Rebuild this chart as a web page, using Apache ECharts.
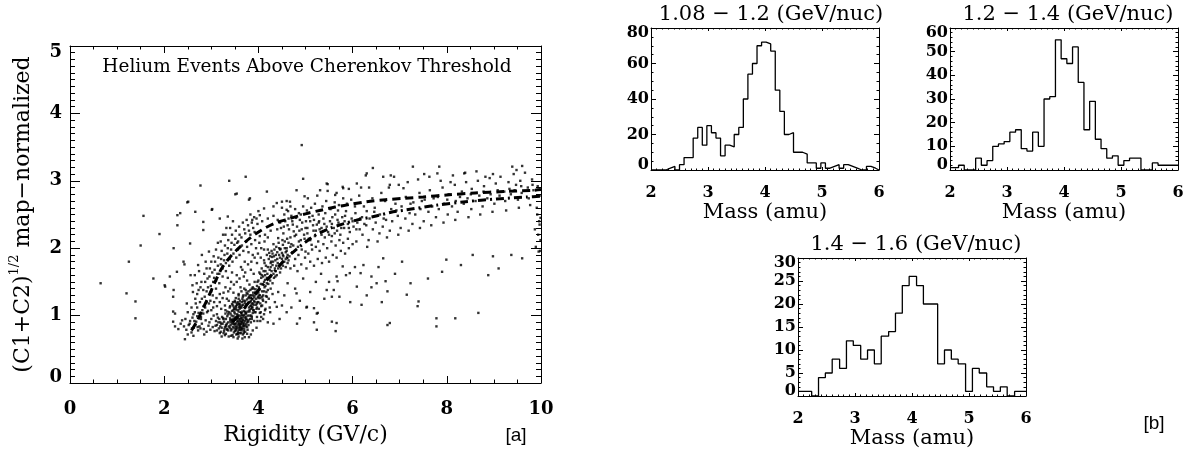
<!DOCTYPE html>
<html><head><meta charset="utf-8">
<script src="https://cdn.jsdelivr.net/npm/echarts@6/dist/echarts.min.js"></script>
<style>html,body{margin:0;padding:0;background:#fff}#c{width:1191px;height:458px}</style>
</head><body><div id="c"></div>
<script>
// ---------- Panel [a]: scatter of (C1+C2)^1/2 vs rigidity ----------
const coreCluster = [
[3.52,0.88],[3.61,0.92],[3.58,0.79],[3.67,0.85],[3.44,0.93],[3.71,0.97],[3.55,1.02],[3.63,0.74],[3.49,0.81],[3.76,0.9],
[3.59,0.95],[3.66,1.06],[3.41,0.86],[3.53,0.72],[3.7,0.8],[3.82,0.95],[3.47,0.99],[3.62,0.83],[3.57,0.87],[3.74,1.04],
[3.65,0.9],[3.38,0.84],[3.5,0.77],[3.79,0.86],[3.68,0.93],[3.56,0.97],[3.6,1.1],[3.45,0.9],[3.72,1.12],[3.85,1.0],
[3.54,0.84],[3.64,0.78],[3.7,0.89],[3.48,0.75],[3.58,0.69],[3.77,0.79],[3.62,1.0],[3.51,0.94],[3.4,0.96],[3.69,1.01],
[3.81,1.08],[3.59,0.82],[3.66,0.96],[3.43,0.8],[3.73,0.84],[3.55,0.91],[3.88,1.04],[3.63,0.88],[3.49,1.05],[3.75,0.94],
[3.36,0.9],[3.57,0.76],[3.67,0.72],[3.52,0.98],[3.78,1.0],[3.6,0.86],[3.46,0.83],[3.71,0.92],[3.84,0.9],[3.64,1.04],
[3.53,0.8],[3.69,0.77],[3.58,1.06],[3.42,0.78],[3.8,1.12],[3.66,0.82],[3.5,0.88],[3.74,0.87],[3.62,0.95],[3.9,1.08],
[3.55,0.73],[3.47,0.95],[3.68,0.99],[3.77,1.06],[3.39,0.82],[3.61,0.79],[3.72,0.76],[3.57,0.92],[3.86,0.98],[3.64,0.91],
[3.33,0.88],[3.51,0.84],[3.7,1.07],[3.6,0.74],[3.45,0.71],[3.79,0.93],[3.56,1.0],[3.67,0.88],[3.83,1.14],[3.48,0.87],
[3.63,0.97],[3.74,0.98],[3.54,0.95],[3.41,0.9],[3.59,0.89],[3.69,0.84],[3.87,1.12],[3.52,1.09],[3.76,0.83],[3.65,0.8],
[3.12,0.78],[3.15,0.9],[3.19,0.84],[3.23,0.98],[3.27,0.91],[3.3,1.08],[3.33,0.8],[3.36,1.02],[3.4,1.14],[3.43,0.94],
[3.46,1.2],[3.49,1.1],[3.52,1.26],[3.55,1.16],[3.58,1.32],[3.61,1.22],[3.64,1.36],[3.67,1.28],[3.7,1.4],[3.73,1.3],
[3.76,1.24],[3.79,1.36],[3.82,1.2],[3.85,1.3],[3.88,1.42],[3.91,1.22],[3.94,1.34],[3.97,1.12],[4.0,1.26],[4.03,1.04],
[3.26,0.74],[3.31,0.95],[3.38,1.05],[3.44,1.17],[3.5,1.03],[3.56,1.2],[3.62,1.12],[3.68,1.22],[3.74,1.16],[3.8,1.28],
[3.86,1.18],[3.92,1.05],[3.98,1.2],[4.06,1.14],[4.1,1.22],[3.21,0.88],[3.34,0.99],[3.47,1.08],[3.59,1.17],[3.71,1.19],
[3.83,1.26],[3.95,1.16],[3.65,1.15],[3.53,1.12],[3.41,1.03],[3.29,0.83],[3.17,0.95],[3.77,1.32],[3.89,1.34],[4.02,1.3]
];
const coreHalo = [
[3.18,0.74],[3.22,0.82],[3.26,0.95],[3.29,0.71],[3.32,0.84],[3.34,1.06],[3.37,0.69],[3.39,1.12],[3.43,1.0],[3.46,1.15],
[3.5,1.22],[3.54,1.18],[3.58,1.25],[3.61,1.15],[3.65,1.2],[3.68,1.3],[3.72,1.22],[3.75,1.34],[3.79,1.26],[3.83,1.38],
[3.87,1.24],[3.9,1.4],[3.94,1.05],[3.97,0.98],[4.01,1.1],[4.04,0.92],[4.08,1.15],[4.12,1.02],[4.16,1.2],[4.2,0.9],
[3.96,0.82],[3.91,0.92],[3.88,0.78],[3.84,0.72],[3.8,0.68],[3.76,0.73],[3.71,0.68],[3.66,0.66],[3.56,0.66],[3.47,0.68],
[3.42,0.7],[3.27,0.77],[3.31,0.86],[3.36,0.78],[3.4,0.93],[3.44,1.07],[3.48,1.12],[3.52,1.14],[3.56,1.08],[3.6,1.18],
[3.64,1.12],[3.68,1.16],[3.72,1.05],[3.76,1.17],[3.8,1.2],[3.84,1.1],[3.88,1.18],[3.92,1.3],[3.96,1.32],[4.0,1.34],
[4.04,1.18],[4.08,1.28],[4.12,1.36],[4.16,1.29],[4.22,1.25],[4.26,1.4],[4.3,1.32],[4.06,0.98],[4.14,1.08],[4.24,1.12],
[3.58,1.0],[3.62,0.87],[3.66,0.93],[3.7,0.86],[3.54,0.82],[3.5,0.96],[3.45,0.88],[3.6,0.84],[3.74,0.95],[3.78,0.91],
[3.82,1.0],[3.86,0.95],[3.57,0.73],[3.63,0.81],[3.69,0.74],[3.52,0.78],[3.47,0.92],[3.65,1.01],[3.59,1.13],[3.73,1.02]
];
const lowerTail = [
[2.47,0.79],[2.52,0.86],[2.58,0.75],[2.63,0.82],[2.68,0.91],[2.72,0.78],[2.75,0.84],[2.8,0.88],[2.84,0.8],[2.9,0.76],
[2.94,0.85],[2.98,0.79],[3.03,0.83],[3.07,0.77],[3.12,0.86],[3.16,0.81],[3.2,0.76],[3.24,0.88],[3.28,0.8],[3.31,0.73],
[2.55,0.92],[2.6,0.97],[2.66,0.86],[2.7,0.99],[2.78,0.95],[2.83,1.03],[2.88,0.93],[2.93,1.07],[3.0,0.95],[3.05,1.0],
[3.1,0.92],[3.14,0.97],[3.19,0.9],[3.25,0.96],[3.3,1.03],[2.44,0.65],[2.5,0.72],[2.62,0.7],[2.85,0.72],[3.22,0.69],
[2.71,0.83],[2.77,0.81],[2.96,0.9],[3.09,0.85],[3.34,0.79],[2.59,0.81],[2.42,0.84],[2.38,0.93],[2.65,1.05],[2.87,1.12],
[2.19,0.91],[2.23,0.84],[2.3,0.8],[2.35,0.88]
];
const lowerBand = [
[3.78,1.18],[3.84,1.22],[3.9,1.16],[3.95,1.25],[3.88,1.3],[3.93,1.34],[3.99,1.28],[4.02,1.38],[3.86,1.4],[3.97,1.44],
[4.05,1.47],[4.08,1.36],[3.92,1.2],[4.0,1.52],[4.12,1.5],[4.1,1.58],[4.04,1.62],[4.15,1.66],[4.18,1.56],[4.2,1.72],
[4.07,1.7],[4.24,1.68],[4.13,1.78],[4.27,1.8],[4.22,1.84],[4.3,1.75],[4.33,1.88],[4.18,1.9],[4.36,1.82],[4.4,1.94],
[4.28,1.96],[4.44,1.9],[4.38,2.02],[4.47,1.99],[4.52,2.05],[4.32,1.62],[4.25,1.52],[4.15,1.44],[4.1,1.3],[4.0,1.2],
[3.82,1.3],[3.87,1.12],[3.96,1.1],[4.03,1.3],[4.09,1.24],[4.17,1.35],[4.21,1.47],[4.26,1.58],[4.35,1.7],[4.41,1.78],
[4.46,1.86],[4.5,1.93],[4.56,2.0],[4.6,1.96],[4.64,2.08],[4.55,1.8],[4.48,1.7],[4.39,1.6],[4.3,1.48],[4.2,1.38],
[3.94,1.39],[3.98,1.5],[4.06,1.56],[4.11,1.66],[4.16,1.74],[4.23,1.93],[4.29,1.87],[4.34,1.98],[4.43,2.08],[4.51,2.12],
[3.81,1.06],[3.89,1.08],[3.91,1.27],[4.01,1.42],[4.07,1.6],[4.14,1.53],[4.19,1.62],[4.26,1.72],[4.31,1.8],[4.37,1.9],
[3.85,1.15],[3.97,1.18],[4.04,1.26],[4.13,1.42],[4.23,1.56],[4.37,1.66],[4.45,1.76],[4.53,1.88],[4.62,1.9],[4.68,2.02],
[3.92,1.5],[4.02,1.64],[4.12,1.82],[4.2,1.98],[4.09,1.46],[4.18,1.48],[4.28,1.66],[4.33,1.56],[4.42,1.7],[4.58,1.84],
[4.25,1.88],[4.32,2.06],[4.38,1.74],[4.44,2.0],[4.5,1.84],[4.56,2.1],[4.62,1.78],[4.68,2.16],[4.74,2.04],[4.8,2.2],
[4.86,2.1],[4.92,2.28],[4.98,2.14],[5.04,2.22],[5.1,2.12],[5.16,2.34],[5.22,2.26],[5.28,2.38],[5.34,2.3],[5.4,2.36],
[4.14,1.6],[4.2,1.55],[4.26,1.78],[4.3,1.92],[4.36,1.58],[4.4,1.84],[4.46,1.64],[4.52,1.74],[4.58,1.94],[4.64,1.82]
];
const upperBand = [
[2.62,1.02],[2.7,1.12],[2.76,1.2],[2.81,1.08],[2.86,1.28],[2.9,1.36],[2.95,1.18],[2.99,1.44],[3.03,1.3],[3.06,1.56],
[3.1,1.4],[3.13,1.62],[3.17,1.48],[3.2,1.76],[3.24,1.58],[3.27,1.82],[3.31,1.66],[3.34,1.92],[3.38,1.74],[3.42,1.98],
[3.45,1.8],[3.49,2.05],[3.53,1.86],[3.57,2.1],[3.6,1.9],[3.64,2.16],[3.68,1.96],[3.72,2.22],[3.76,2.02],[3.8,2.26],
[3.85,2.06],[3.89,2.3],[3.93,2.12],[3.98,2.36],[4.03,2.18],[4.08,2.4],[4.14,2.2],[4.2,2.44],[4.26,2.26],[4.32,2.48],
[2.66,1.25],[2.73,1.38],[2.79,1.5],[2.85,1.62],[2.92,1.55],[2.97,1.7],[3.02,1.64],[3.08,1.8],[3.15,1.86],[3.22,1.96],
[3.29,2.04],[3.36,2.12],[3.44,2.2],[3.52,2.26],[3.59,2.32],[3.67,2.38],[3.75,2.42],[3.83,2.5],[3.91,2.46],[4.0,2.55],
[2.78,0.98],[2.84,1.14],[2.91,1.05],[2.98,1.22],[3.04,1.12],[3.11,1.26],[3.18,1.2],[3.26,1.34],[3.33,1.25],[3.4,1.4],
[3.47,1.34],[3.54,1.5],[3.62,1.42],[3.69,1.58],[3.76,1.52],[3.84,1.68],[3.9,1.62],[3.97,1.78],[4.05,1.86],[4.12,1.98],
[3.35,1.56],[3.44,1.64],[3.5,1.2],[3.58,1.3],[3.66,1.25],[3.73,1.38],[3.81,1.46],[3.88,1.9],[3.95,2.0],[4.02,2.08],
[3.12,1.02],[3.21,1.1],[3.29,1.15],[3.37,1.22],[2.56,1.6],[2.61,1.35],[2.69,1.48],[2.74,1.66],[2.88,1.8],[2.95,1.95],
[3.05,1.88],[3.14,2.08],[3.25,2.2],[3.32,2.3],[3.46,2.4],[3.55,2.08],[3.63,1.72],[3.71,1.8],[3.79,1.94],[3.86,2.38],
[2.45,0.95],[2.5,1.05],[2.54,0.88],[2.58,1.12],[2.64,0.92],[2.67,1.18],[2.7,1.32],[2.73,1.04],[2.77,1.42],[2.8,1.25],
[2.83,1.38],[2.87,1.5],[2.9,1.2],[2.93,1.42],[2.96,1.58],[3.0,1.36],[3.04,1.5],[3.07,1.68],[3.1,1.52],[3.14,1.74],
[3.17,1.62],[3.21,1.84],[3.24,1.7],[3.28,1.9],[3.31,1.78],[3.35,2.0],[3.39,1.84],[3.43,2.08],[3.47,1.92],[3.51,2.14],
[3.56,1.98],[3.6,2.2],[3.65,2.04],[3.7,2.28],[3.74,2.1],[3.78,2.34],[3.83,2.2],[3.87,2.42],[3.92,2.24],[3.96,2.44],
[3.0,1.08],[3.06,1.2],[3.12,1.14],[3.18,1.32],[3.24,1.26],[3.3,1.42],[3.36,1.36],[3.42,1.5],[3.48,1.46],[3.54,1.6],
[3.6,1.55],[3.66,1.68],[3.72,1.64],[3.78,1.76],[3.85,1.8],[3.92,1.86],[3.99,1.92],[4.06,2.0],[4.13,2.1],[4.2,2.16],
[2.6,1.45],[2.65,1.6],[2.72,1.75],[2.8,1.9],[2.9,1.7],[3.0,1.8],[3.1,1.98],[3.2,2.1],[3.3,2.2],[3.4,2.3]
];
const midBand = [
[4.42,2.15],[4.48,2.3],[4.53,2.22],[4.57,2.4],[4.61,2.14],[4.65,2.28],[4.7,2.06],[4.73,2.35],[4.77,2.18],[4.8,2.45],
[4.84,2.02],[4.87,2.26],[4.9,2.12],[4.93,2.38],[4.97,2.2],[5.0,1.95],[5.04,2.3],[5.07,2.14],[5.1,2.4],[5.13,2.05],
[5.17,2.26],[5.2,2.18],[5.24,2.35],[5.27,2.1],[5.3,2.28],[5.34,2.2],[5.38,2.44],[5.41,2.16],[5.45,2.32],[5.48,2.24],
[5.52,2.4],[5.56,2.18],[5.6,2.3],[5.63,2.5],[5.67,2.26],[5.7,2.38],[5.74,2.2],[5.78,2.46],[5.82,2.3],[5.86,2.55],
[5.9,2.36],[5.94,2.24],[5.98,2.44],[6.02,2.32],[6.06,2.52],[6.1,2.38],[6.15,2.28],[6.2,2.46],[6.25,2.36],[6.3,2.55],
[4.46,1.98],[4.52,1.9],[4.6,2.0],[4.66,1.88],[4.72,1.94],[4.78,1.84],[4.85,1.9],[4.92,1.98],[4.99,1.86],[5.06,1.92],
[5.14,1.98],[5.22,2.02],[5.3,1.96],[5.38,2.06],[5.46,2.0],[5.55,2.1],[5.64,2.04],[5.72,2.12],[5.8,2.08],[5.9,2.14],
[4.55,2.5],[4.63,2.55],[4.7,2.48],[4.78,2.58],[4.86,2.52],[4.95,2.62],[5.03,2.56],[5.12,2.6],[5.2,2.66],[5.28,2.5],
[5.36,2.62],[5.44,2.7],[5.53,2.58],[5.62,2.68],[5.71,2.64],[5.8,2.74],[5.88,2.66],[5.97,2.72],[6.05,2.62],[6.14,2.78],
[4.5,1.78],[4.58,1.72],[4.68,1.7],[4.76,1.74],[4.83,1.66],[4.91,1.76],[5.02,1.7],[5.1,1.8],[5.18,1.74],[5.26,1.84],
[5.35,1.78],[5.43,1.86],[5.5,1.8],[5.58,1.9],[5.66,1.86],[5.75,1.96],[5.84,1.92],[5.92,2.0],[6.0,2.06],[6.08,2.1],
[4.62,2.34],[4.75,2.25],[4.88,2.42],[5.01,2.4],[5.15,2.48],[5.29,2.4],[5.42,2.52],[5.57,2.46],[5.69,2.56],[5.83,2.4],
[4.41,2.42],[4.5,2.6],[4.6,2.7],[4.68,2.62],[5.05,2.74],[5.25,2.78],[5.47,2.85],[5.66,2.82],[5.92,2.88],[6.18,2.9],
[4.4,2.28],[4.46,2.38],[4.54,2.32],[4.64,2.44],[4.72,2.4],[4.82,2.32],[4.9,2.5],[5.0,2.3],[5.08,2.46],[5.18,2.42],
[5.5,2.2],[5.56,2.36],[5.62,2.22],[5.68,2.42],[5.76,2.3],[5.84,2.48],[5.92,2.3],[6.0,2.4],[6.08,2.28],[6.16,2.44]
];
const highRigidity = [
[6.21,2.2],[6.29,2.34],[6.34,2.12],[6.36,2.44],[6.43,2.28],[6.47,2.6],[6.49,2.38],[6.57,2.22],[6.58,2.5],[6.64,2.32],
[6.69,2.7],[6.71,2.42],[6.79,2.26],[6.82,2.58],[6.84,2.4],[6.91,2.66],[6.96,2.48],[7.02,2.3],[7.04,2.62],[7.12,2.44],
[7.13,2.76],[7.21,2.52],[7.27,2.36],[7.29,2.68],[7.33,2.5],[7.42,2.82],[7.44,2.58],[7.51,2.4],[7.53,2.72],[7.61,2.54],
[7.64,2.86],[7.69,2.62],[7.77,2.46],[7.81,2.76],[7.83,2.58],[7.91,2.9],[7.94,2.66],[8.02,2.5],[8.04,2.8],[8.11,2.62],
[8.17,2.94],[8.19,2.7],[8.23,2.54],[8.32,2.84],[8.36,2.66],[8.41,2.98],[8.44,2.74],[8.52,2.58],[8.53,2.88],[8.61,2.7],
[8.66,3.0],[8.69,2.78],[8.76,2.62],[8.79,2.92],[8.86,2.74],[8.91,3.04],[8.93,2.8],[9.01,2.66],[9.04,2.96],[9.12,2.78],
[9.14,3.06],[9.22,2.84],[9.24,2.7],[9.31,2.98],[9.36,2.8],[9.42,3.1],[9.44,2.86],[9.51,2.72],[9.56,3.0],[9.59,2.82],
[9.66,3.12],[9.72,2.9],[9.74,2.74],[9.81,3.02],[9.84,2.86],[9.91,2.6],[9.93,2.92],[9.97,2.78],[6.24,2.62],[6.42,2.74],
[6.61,2.82],[6.77,2.9],[6.98,2.94],[7.17,2.98],[7.39,3.02],[7.63,3.06],[7.87,3.0],[8.13,3.08],[8.39,3.12],[8.63,3.14],
[6.31,2.02],[6.53,2.1],[6.73,2.16],[6.97,2.2],[7.19,2.26],[7.43,2.3],[7.67,2.34],[7.93,2.38],[8.18,2.42],[8.46,2.46],
[8.71,2.5],[8.97,2.54],[9.26,2.56],[9.53,2.6],[9.77,2.64],[9.92,2.5],[9.96,2.4],[9.87,2.28],[9.94,2.2],[9.99,2.12],
[6.46,2.54],[6.66,2.44],[6.93,2.56],[7.23,2.66],[7.47,2.7],[7.72,2.74],[8.01,2.72],[8.28,2.76],[8.51,2.8],[8.78,2.84],
[9.08,2.86],[9.33,2.88],[9.58,2.92],[9.82,2.94],[6.35,2.9],[6.88,3.06],[7.52,3.1],[8.08,2.98],[8.82,3.06],[9.48,3.16]
];
const sparsePoints = [
[0.65,1.48],[1.2,1.33],[1.25,1.8],[1.39,1.21],[1.39,0.96],[1.56,2.48],[1.5,2.04],[1.77,1.55],[1.9,2.21],[2.01,1.45],
[2.2,2.0],[2.2,1.38],[2.19,1.06],[2.28,2.34],[2.28,2.49],[2.43,1.76],[2.49,2.68],[2.66,2.54],[2.77,2.93],[3.02,2.58],
[2.83,2.39],[3.35,2.47],[3.38,3.0],[3.51,2.8],[3.73,3.06],[3.8,2.72],[4.12,2.59],[4.5,2.69],[4.92,3.53],[4.95,3.03],
[4.98,2.77],[5.47,2.95],[5.79,2.91],[6.43,3.19],[6.28,3.08],[6.81,3.08],[7.28,3.21],[7.8,3.11],[7.84,3.21],[8.37,3.11],
[8.98,3.1],[9.39,3.21],[9.6,3.22],[9.47,2.94],[9.89,2.02],[9.37,1.9],[8.88,1.6],[8.98,1.88],[8.67,1.04],[8.18,0.96],
[7.78,0.96],[7.78,0.84],[7.99,1.83],[7.4,1.21],[7.38,1.14],[7.15,1.31],[7.23,1.48],[6.74,0.86],[6.74,1.36],[6.7,1.51],
[6.4,1.42],[6.4,1.58],[6.19,1.16],[6.17,1.63],[5.64,0.77],[5.56,0.91],[5.18,0.9],[5.18,1.11],[5.26,1.04],[5.56,1.28],
[5.6,1.38],[5.68,1.51],[5.79,1.73],[6.09,1.43],[2.12,1.58],[2.02,1.43],[2.19,1.28],[2.48,1.18],[2.23,1.03],[2.27,1.65],
[2.41,1.8],[2.55,2.07],[2.83,2.27],[3.18,2.44],[3.54,2.81],[3.82,2.74],[2.34,2.52],[2.51,2.69],[3.01,2.57],[4.39,2.67],
[4.67,2.69],[5.45,2.96],[5.8,2.89],[6.09,2.96],[6.3,3.11],[6.65,3.06],[6.79,2.94],[7.08,2.89],[4.18,2.84],[4.81,2.86],
[5.31,2.86],[5.63,2.79],[4.03,2.49],[4.32,2.62],[4.6,2.57],[4.25,1.05],[4.35,1.2],[4.45,0.95],[4.55,1.3],[4.62,1.48],
[4.7,1.12],[4.78,1.4],[4.82,0.88],[4.88,1.22],[4.95,1.55],[5.02,1.12],[5.1,1.35],[5.22,1.5],[5.33,1.62],[5.4,1.25],
[5.5,1.5],[5.72,1.28],[5.86,1.6],[5.95,1.2],[6.05,1.72],[6.3,1.3],[6.55,1.72],[6.62,1.2],[6.9,1.62],[7.05,1.8],
[7.6,1.55],[7.9,1.65],[8.3,1.75],[8.55,1.9],[9.1,1.7],[9.6,1.85],[9.95,1.95],[4.1,0.95],[4.15,1.1],[4.32,0.88],
[4.42,1.35],[4.5,1.15],[3.98,0.92],[4.05,1.05],[4.6,1.05],[4.81,1.33],[5.03,1.13],[5.24,1.03],[5.45,1.38],[5.66,1.58],
[5.94,1.63],[6.23,1.75],[6.51,1.48],[6.65,1.85],[6.79,0.89],[5.66,0.89],[5.24,0.79],[4.88,0.96],[4.39,1.13],[4.18,1.28],
[9.99,2.45],[9.97,2.35],[9.98,1.96]
];
// dashed (upper) and dash-dot (lower) threshold curves
const upperCurve = [[2.58,0.78],[2.7,0.92],[2.82,1.1],[2.94,1.28],[3.08,1.5],[3.22,1.7],[3.4,1.87],[3.61,2.02],[3.82,2.15],[4.07,2.27],[4.35,2.37],[4.67,2.44],[5.0,2.51],[5.3,2.56],[5.63,2.61],[5.95,2.65],[6.3,2.69],[6.7,2.72],[7.1,2.74],[7.5,2.76],[8.0,2.79],[8.6,2.82],[9.2,2.84],[9.85,2.86],[10,2.87]];
const lowerCurve = [[3.45,0.9],[3.6,1.02],[3.8,1.2],[4.05,1.42],[4.3,1.62],[4.55,1.82],[4.8,1.98],[5.0,2.09],[5.2,2.19],[5.5,2.29],[5.8,2.36],[6.1,2.42],[6.45,2.47],[6.8,2.53],[7.15,2.57],[7.8,2.64],[8.4,2.69],[9.05,2.73],[9.7,2.76],[10,2.77]];

// ---------- Panel [b]: mass histograms (left bin edges, counts) ----------
const hist1Edges = [2.00,2.26,2.34,2.42,2.50,2.58,2.66,2.74,2.82,2.90,2.98,3.06,3.14,3.22,3.30,3.38,3.46,3.54,3.62,3.70,3.78,3.86,3.94,4.02,4.10,4.18,4.26,4.34,4.42,4.50,4.58,4.66,4.74,4.82,4.90,4.98,5.06,5.14,5.22,5.30,5.38,5.46,5.54,5.62,5.70,5.78,5.86,5.94];
const hist1Counts = [0,1,2,0,3,7,7,18,24,14,25,21,18,8,14,13,20,24,40,54,60,70,72,71,67,45,33,20,21,10,10,9,4,4,1,4,1,2,3,1,3,2,1,0,0,2,1,0];
const hist2Edges = [2.00,2.15,2.25,2.45,2.55,2.65,2.75,2.85,2.95,3.05,3.15,3.25,3.35,3.45,3.55,3.65,3.75,3.85,3.95,4.05,4.15,4.25,4.35,4.45,4.55,4.65,4.75,4.85,4.95,5.05,5.15,5.25,5.35,5.45,5.55,5.65,5.75,5.85,5.95];
const hist2Counts = [1,2,0,5,2,4,10,11,12,16,17,9,8,16,10,30,31,55,47,45,52,37,17,29,13,9,5,6,2,4,5,5,0,0,3,2,2,2,2];
const hist3Edges = [2.00,2.24,2.36,2.48,2.60,2.73,2.85,2.97,3.10,3.22,3.34,3.46,3.59,3.71,3.83,3.95,4.08,4.20,4.32,4.45,4.57,4.69,4.81,4.94,5.06,5.18,5.31,5.43,5.55,5.67,5.80];
const hist3Counts = [1,0,4,5,8,6,12,11,8,10,7,13,14,18,24,26,24,20,20,7,10,8,7,1,6,5,2,1,2,0,1];
const histTitles = ['1.08 \u2212 1.2 (GeV/nuc)', '1.2 \u2212 1.4 (GeV/nuc)', '1.4 \u2212 1.6 (GeV/nuc)'];
const histYMax = [80, 60, 30];
const histYStep = [20, 10, 5];
const histYMinor = [4, 5, 5];

const SERIF = 'DejaVu Serif';
const BLACK = '#000';

function baseAxis(grid, min, max, interval, minorN, tLen, mLen) {
  return {
    type: 'value', gridIndex: grid, min: min, max: max, interval: interval,
    axisLine: {show: true, onZero: false, lineStyle: {color: BLACK, width: 1}},
    axisTick: {show: true, inside: true, length: tLen, lineStyle: {color: BLACK, width: 1}},
    minorTick: {show: true, splitNumber: minorN, length: mLen, lineStyle: {color: BLACK, width: 1}},
    splitLine: {show: false}, minorSplitLine: {show: false}
  };
}
function xPair(grid, min, max, interval, minorN, tLen, mLen, lblSize, lblMargin, name, nameSize, nameGap) {
  return [
    Object.assign(baseAxis(grid, min, max, interval, minorN, tLen, mLen), {position: 'bottom',
      axisLabel: {show: true, margin: lblMargin, color: BLACK, fontFamily: SERIF, fontWeight: 'bold', fontSize: lblSize,
        showMinLabel: true, showMaxLabel: true, hideOverlap: false, interval: 0},
      name: name, nameLocation: 'middle', nameGap: nameGap,
      nameTextStyle: {color: BLACK, fontFamily: SERIF, fontSize: nameSize}}),
    Object.assign(baseAxis(grid, min, max, interval, minorN, tLen, mLen), {position: 'top', axisLabel: {show: false}})
  ];
}
function yPair(grid, min, max, interval, minorN, tLen, mLen, lblSize, lblMargin, shift, extra) {
  const rich = {lo: {padding: [0, 0, shift * 2, 0]}, hi: {padding: [shift * 2, 0, 0, 0]}};
  return [
    Object.assign(baseAxis(grid, min, max, interval, minorN, tLen, mLen), {position: 'left',
      axisLabel: {show: true, margin: lblMargin, color: BLACK, fontFamily: SERIF, fontWeight: 'bold', fontSize: lblSize,
        showMinLabel: true, showMaxLabel: true, hideOverlap: false, interval: 0,
        formatter: function (v) { return v === min ? '{lo|' + v + '}' : (v === max ? '{hi|' + v + '}' : String(v)); },
        rich: {lo: Object.assign({fontFamily: SERIF, fontWeight: 'bold', fontSize: lblSize, color: BLACK}, rich.lo),
               hi: Object.assign({fontFamily: SERIF, fontWeight: 'bold', fontSize: lblSize, color: BLACK}, rich.hi)}}},
      extra || {}),
    Object.assign(baseAxis(grid, min, max, interval, minorN, tLen, mLen), {position: 'right', axisLabel: {show: false}})
  ];
}

const grids = [
  {left: 70, top: 46, width: 471, height: 337},
  {left: 651, top: 28, width: 228, height: 142},
  {left: 950, top: 28, width: 228, height: 142},
  {left: 798, top: 258, width: 228, height: 138}
];

const xAxes = [].concat(
  xPair(0, 0, 10, 2, 4, 7, 3.5, 18, 17, 'Rigidity (GV/c)', 22, 41),
  xPair(1, 2, 6, 1, 10, 3, 1.5, 16, 15, 'Mass (amu)', 21, 29),
  xPair(2, 2, 6, 1, 10, 3, 1.5, 16, 15, 'Mass (amu)', 21, 29),
  xPair(3, 2, 6, 1, 10, 3, 1.5, 16, 15, 'Mass (amu)', 21, 29)
);
const yAxes = [].concat(
  yPair(0, 0, 5, 1, 10, 10, 5, 18, 8, 6, {
    name: '(C1+C2){sup|1/2} map\u2212normalized', nameLocation: 'middle', nameRotate: 90, nameGap: 32,
    nameTextStyle: {color: BLACK, fontFamily: SERIF, fontSize: 22, lineHeight: 30,
      rich: {sup: {fontFamily: SERIF, fontSize: 13, lineHeight: 13, verticalAlign: 'top', color: BLACK}}}
  }),
  yPair(1, 0, histYMax[0], histYStep[0], histYMinor[0], 5, 2.5, 16, 2, 5),
  yPair(2, 0, histYMax[1], histYStep[1], histYMinor[1], 5, 2.5, 16, 2, 5),
  yPair(3, 0, histYMax[2], histYStep[2], histYMinor[2], 5, 2.5, 16, 2, 5)
);

function stepData(edges, counts) {
  const d = edges.map((e, i) => [e, counts[i]]);
  d.push([6, counts[counts.length - 1]]);
  return d;
}

const scatterData = [].concat(coreCluster, coreHalo, lowerTail, lowerBand, upperBand, midBand, highRigidity, sparsePoints);

const series = [
  {type: 'scatter', xAxisIndex: 0, yAxisIndex: 0, data: scatterData, symbol: 'rect', symbolSize: 2.4,
   itemStyle: {color: BLACK}, silent: true, z: 2},
  {type: 'line', xAxisIndex: 0, yAxisIndex: 0, data: upperCurve, showSymbol: false, smooth: 0.3, silent: true, z: 3,
   lineStyle: {color: BLACK, width: 3, type: [8, 5]}},
  {type: 'line', xAxisIndex: 0, yAxisIndex: 0, data: lowerCurve, showSymbol: false, smooth: 0.3, silent: true, z: 3,
   lineStyle: {color: BLACK, width: 3, type: [8, 4, 2, 4]}},
  {type: 'line', xAxisIndex: 2, yAxisIndex: 2, data: stepData(hist1Edges, hist1Counts), step: 'end', showSymbol: false, silent: true,
   lineStyle: {color: BLACK, width: 1.3}},
  {type: 'line', xAxisIndex: 4, yAxisIndex: 4, data: stepData(hist2Edges, hist2Counts), step: 'end', showSymbol: false, silent: true,
   lineStyle: {color: BLACK, width: 1.3}},
  {type: 'line', xAxisIndex: 6, yAxisIndex: 6, data: stepData(hist3Edges, hist3Counts), step: 'end', showSymbol: false, silent: true,
   lineStyle: {color: BLACK, width: 1.3}}
];

function label(text, x, y, size, family) {
  return {type: 'text', x: x, y: y, silent: true,
    style: {text: text, fill: BLACK, font: size + 'px "' + (family || SERIF) + '"', textAlign: 'center', textVerticalAlign: 'middle'}};
}

const chart = echarts.init(document.getElementById('c'), null, {renderer: 'canvas'});
chart.setOption({
  animation: false,
  backgroundColor: '#fff',
  grid: grids,
  xAxis: xAxes,
  yAxis: yAxes,
  series: series,
  graphic: [
    label('Helium Events Above Cherenkov Threshold', 307, 67, 18.5),
    label('[a]', 516, 436, 19, 'Liberation Sans'),
    label('[b]', 1154, 424, 19, 'Liberation Sans'),
    label(histTitles[0], 771, 15, 21),
    label(histTitles[1], 1068, 15, 21),
    label(histTitles[2], 916, 245, 21)
  ]
});
</script>
</body></html>
